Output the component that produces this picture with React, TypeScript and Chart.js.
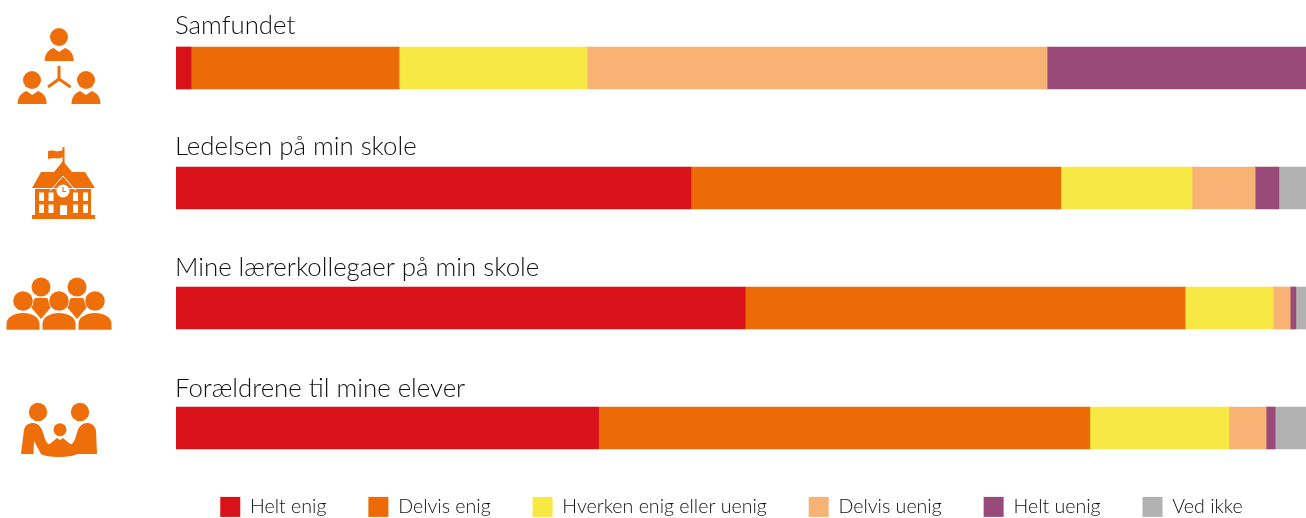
import React, { useEffect, useRef } from "react";
import { Chart, registerables } from "chart.js";

Chart.register(...registerables);

const categories = ["Samfundet", "Ledelsen på min skole", "Mine lærerkollegaer på min skole", "Forældrene til mine elever"];
const heltEnig = [1.33, 45.57, 50.37, 37.4];
const delvisEnig = [18.41, 32.73, 38.93, 43.47];
const hverken = [16.64, 11.6, 7.8, 12.3];
const delvisUenig = [40.71, 5.6, 1.5, 3.3];
const heltUenig = [22.91, 2.1, 0.5, 0.8];
const vedIkke = [0, 2.4, 0.9, 2.73];
const seriesNames = ["Helt enig", "Delvis enig", "Hverken enig eller uenig", "Delvis uenig", "Helt uenig", "Ved ikke"];
const seriesColors = ["#D91118", "#ED6B06", "#F7E843", "#F7B274", "#994A78", "#B2B2B2"];

const FONT = "Lato, 'Noto Sans', sans-serif";
const ICON = "#EE6F0A";

const rowLabels = {
  id: "rowLabels",
  afterDatasetsDraw(chart: any) {
    const { ctx, scales } = chart;
    ctx.save();
    ctx.font = `300 25.8px ${FONT}`;
    ctx.fillStyle = "#111111";
    ctx.textBaseline = "alphabetic";
    ctx.textAlign = "left";
    chart.data.labels.forEach((l: string, i: number) => {
      ctx.fillText(l, 175, scales.y.getPixelForValue(i) - 34 + i);
    });
    ctx.restore();
  },
};

const legendFit = {
  id: "legendFit",
  beforeInit(chart: any) {
    const legend = chart.legend;
    const orig = legend.fit;
    legend.fit = function () {
      orig.call(legend);
      legend.height = 30;
    };
  },
  beforeDraw(chart: any) {
    chart.legend.top = 455;
  },
};

function Person({ x, y, w, h }: { x: number; y: number; w: number; h: number }) {
  const cx = x + w / 2;
  return (
    <path
      d={`M${x} ${y + h} C${x} ${y + h * 0.3} ${x + w * 0.2} ${y + h * 0.1} ${x + w * 0.3} ${y}
      L${cx} ${y + h * 0.3} L${x + w * 0.7} ${y} C${x + w * 0.8} ${y + h * 0.1} ${x + w} ${y + h * 0.3} ${x + w} ${y + h} Z`}
      fill={ICON}
    />
  );
}

function Icons() {
  return (
    <svg width={170} height={518} style={{ position: "absolute", left: 0, top: 0 }}>
      {/* society */}
      <circle cx={59} cy={37} r={9} fill={ICON} />
      <circle cx={32} cy={80} r={9} fill={ICON} />
      <circle cx={86} cy={80} r={9} fill={ICON} />
      <Person x={44.7} y={48} w={29} h={13} />
      <Person x={17.7} y={91} w={29} h={13} />
      <Person x={71.5} y={91} w={29} h={13} />
      <path d="M59 66V79M59 79L48 87M59 79L70.5 87" stroke={ICON} strokeWidth={3} fill="none" />
      {/* school */}
      <path d="M62.5 147h2v18h-2zM48 151C53 149 58 153 62.5 150V157C58 160 53 157 48 159Z" fill={ICON} />
      <path d="M63 161L72 172H54Z" fill={ICON} />
      <path d="M41 172H85L95 188H32Z" fill={ICON} />
      <rect x={35} y={189} width={56} height={26} fill={ICON} />
      <rect x={32} y={215} width={63} height={4} fill={ICON} />
      <path d="M50 191L63 176L76 191" stroke="#fff" strokeWidth={1} fill="none" />
      <circle cx={63} cy={191} r={6.5} fill="#fff" />
      <path d="M63 187V191.5H66" stroke={ICON} strokeWidth={1.2} fill="none" />
      {[39, 48.5, 73, 83].flatMap((x) =>
        [192.5, 204.5].map((y) => <rect key={`${x}-${y}`} x={x} y={y} width={5} height={8.5} fill="#fff" />)
      )}
      <rect x={60} y={205} width={7} height={10} fill="#fff" />
      {/* colleagues */}
      <circle cx={41} cy={287} r={9.5} fill={ICON} />
      <circle cx={77} cy={287} r={9.5} fill={ICON} />
      <path d="M35 298H47L52 306L41 319L30 306Z" fill={ICON} />
      <path d="M71 298H83L88 306L77 319L66 306Z" fill={ICON} />
      {[23, 59, 95].map((cx) => (
        <g key={cx} stroke="#fff" strokeWidth={1.5} paintOrder="stroke">
          <circle cx={cx} cy={301} r={9.8} fill={ICON} />
          <path d={`M${cx - 16.5} 329.8V324C${cx - 16.5} 317 ${cx - 9} 313 ${cx} 313C${cx + 9} 313 ${cx + 16.5} 317 ${cx + 16.5} 324V329.8Z`} fill={ICON} />
        </g>
      ))}
      {/* parents */}
      <circle cx={38} cy={412} r={9.2} fill={ICON} />
      <circle cx={80} cy={412} r={9.2} fill={ICON} />
      <circle cx={60} cy={429.7} r={6.5} fill={ICON} />
      <path d="M21 454L24 430C25 424 30 423 33 423C39 423 42 428 44 436C46 442 48 446 51 443L57 438L60 440L63 438L69 443C72 446 74 442 76 436C78 428 81 423 87 423C91 423 95 425 96 431L97 454H77C72 458 46 458 41 454L34 441L33.5 454Z" fill={ICON} />
    </svg>
  );
}

export default function App() {
  const ref = useRef<HTMLCanvasElement>(null);
  useEffect(() => {
    const values = [heltEnig, delvisEnig, hverken, delvisUenig, heltUenig, vedIkke];
    const chart = new Chart(ref.current!, {
      type: "bar",
      data: {
        labels: categories,
        datasets: seriesNames.map((label, i) => ({
          label,
          data: values[i],
          backgroundColor: seriesColors[i],
          borderWidth: 0,
          barThickness: 42,
        })),
      },
      options: {
        indexAxis: "y",
        animation: false,
        responsive: false,
        layout: { padding: { left: 157, top: 8, right: 0, bottom: 0 } },
        scales: {
          x: { stacked: true, min: 0, max: 100, display: false },
          y: {
            stacked: true,
            grid: { display: false },
            border: { display: false },
            ticks: { display: false },
            afterFit: (s: any) => {
              s.width = 19;
            },
          },
        },
        plugins: {
          tooltip: { enabled: false },
          legend: {
            position: "bottom",
            labels: {
              boxWidth: 20,
              boxHeight: 20,
              padding: 41.9,
              color: "#111111",
              font: { family: FONT, size: 19.6, weight: "300" },
            },
          },
        },
      },
      plugins: [rowLabels, legendFit],
    } as any);
    return () => chart.destroy();
  }, []);
  return (
    <div style={{ position: "absolute", left: 0, top: 0, width: 1306, height: 518, background: "#fff" }}>
      <canvas ref={ref} width={1306} height={518} style={{ position: "absolute", left: 0, top: 0 }} />
      <Icons />
    </div>
  );
}
